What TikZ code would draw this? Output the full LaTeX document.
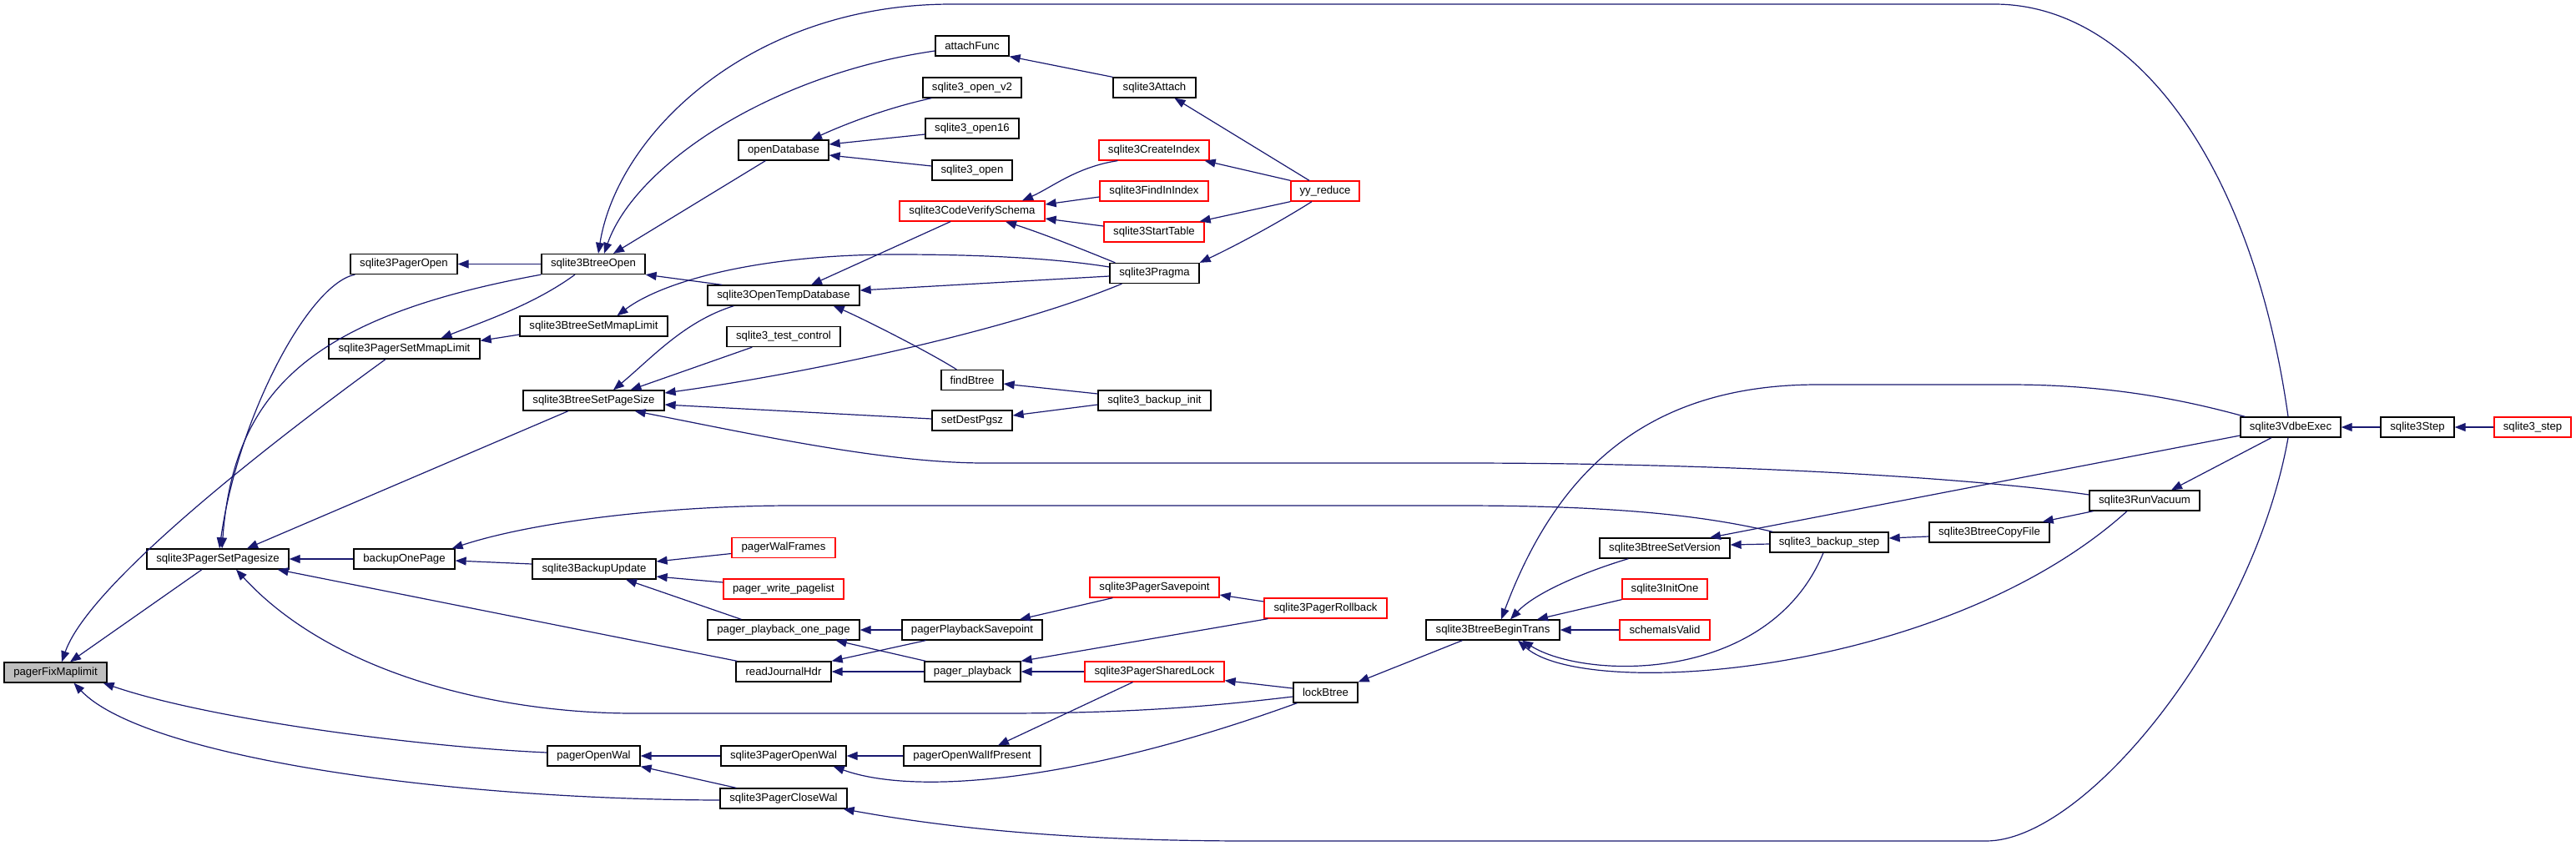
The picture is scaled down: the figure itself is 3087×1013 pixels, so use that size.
\documentclass[tikz,border=0pt]{standalone}
\usepackage{fontspec}
\setmainfont{Liberation Sans}
\usetikzlibrary{arrows.meta}
\definecolor{edgeblue}{HTML}{191970}
\definecolor{boxred}{HTML}{FF0000}
\definecolor{boxgray}{HTML}{BFBFBF}
\begin{document}
\begin{tikzpicture}[x=1pt,y=-1pt,
  fn/.style={draw=black, line width=1.3pt, fill=white, inner sep=0pt, minimum height=24pt, text=black, font=\fontsize{13.2}{15}\selectfont},
  fnred/.style={fn, draw=boxred},
  edge/.style={draw=edgeblue, line width=1.2pt, {Triangle[length=13pt,width=10pt]}-}]
\useasboundingbox (0,0) rectangle (3087,1013);
% rank 1-4
\node[fn, fill=boxgray, minimum width=123pt] (pfm) at (66.5,806) {pagerFixMaplimit};
\node[fn, minimum width=170pt] (psp) at (261,670) {sqlite3PagerSetPagesize};
\node[fn, minimum width=128pt] (pagerOpen) at (484,316.5) {sqlite3PagerOpen};
\node[fn, minimum width=181pt] (psml) at (484.5,418) {sqlite3PagerSetMmapLimit};
\node[fn, minimum width=121pt] (backupOnePage) at (484.5,670) {backupOnePage};
\node[fn, minimum width=124pt] (btreeOpen) at (711,316.5) {sqlite3BtreeOpen};
\node[fn, minimum width=177pt] (bsml) at (711.5,391) {sqlite3BtreeSetMmapLimit};
\node[fn, minimum width=169pt] (bspsz) at (711.5,480) {sqlite3BtreeSetPageSize};
\node[fn, minimum width=148pt] (backupUpdate) at (712,682) {sqlite3BackupUpdate};
\node[fn, minimum width=111pt] (pagerOpenWal) at (711.5,906) {pagerOpenWal};
% rank 5
\node[fn, minimum width=108pt] (openDatabase) at (939,180) {openDatabase};
\node[fn, minimum width=182pt] (otd) at (939,354) {sqlite3OpenTempDatabase};
\node[fn, minimum width=136pt] (testControl) at (939,403.5) {sqlite3\_test\_control};
\node[fnred, minimum width=124pt] (walFrames) at (939,656.5) {pagerWalFrames};
\node[fnred, minimum width=144pt] (writePagelist) at (939,706) {pager\_write\_pagelist};
\node[fn, minimum width=182pt] (ppop) at (939,755) {pager\_playback\_one\_page};
\node[fn, minimum width=114pt] (readJournalHdr) at (939,805) {readJournalHdr};
\node[fn, minimum width=150pt] (pagerOpenWalS) at (939,906) {sqlite3PagerOpenWal};
\node[fn, minimum width=152pt] (closeWal) at (939,957) {sqlite3PagerCloseWal};
% rank 6
\node[fn, minimum width=88pt] (attachFunc) at (1165,55) {attachFunc};
\node[fn, minimum width=118pt] (openV2) at (1165,105) {sqlite3\_open\_v2};
\node[fn, minimum width=112pt] (open16) at (1165,154) {sqlite3\_open16};
\node[fn, minimum width=96pt] (open) at (1165,204) {sqlite3\_open};
\node[fnred, minimum width=174pt] (cvs) at (1165,253) {sqlite3CodeVerifySchema};
\node[fn, minimum width=74pt] (findBtree) at (1165,455.5) {findBtree};
\node[fn, minimum width=96pt] (setDestPgsz) at (1165,504) {setDestPgsz};
\node[fn, minimum width=168pt] (pps) at (1165,755) {pagerPlaybackSavepoint};
\node[fn, minimum width=115pt] (pagerPlayback) at (1165.5,805) {pager\_playback};
\node[fn, minimum width=164pt] (owip) at (1165,906) {pagerOpenWalIfPresent};
% rank 7
\node[fn, minimum width=99pt] (attach) at (1383.5,105) {sqlite3Attach};
\node[fnred, minimum width=132pt] (createIndex) at (1383,180) {sqlite3CreateIndex};
\node[fnred, minimum width=130pt] (findInIndex) at (1383,229) {sqlite3FindInIndex};
\node[fnred, minimum width=120pt] (startTable) at (1383,278) {sqlite3StartTable};
\node[fn, minimum width=107pt] (pragma) at (1383.5,327.5) {sqlite3Pragma};
\node[fn, minimum width=135pt] (backupInit) at (1383.5,480) {sqlite3\_backup\_init};
\node[fnred, minimum width=155pt] (savepoint) at (1383.5,704) {sqlite3PagerSavepoint};
\node[fnred, minimum width=167pt] (sharedLock) at (1383.5,805) {sqlite3PagerSharedLock};
% rank 8+
\node[fnred, minimum width=82pt] (yyReduce) at (1588,229) {yy\_reduce};
\node[fnred, minimum width=147pt] (rollback) at (1588.5,729) {sqlite3PagerRollback};
\node[fn, minimum width=77pt] (lockBtree) at (1588.5,830) {lockBtree};
\node[fn, minimum width=160pt] (beginTrans) at (1789,755) {sqlite3BtreeBeginTrans};
\node[fn, minimum width=156pt] (setVersion) at (1995,657) {sqlite3BtreeSetVersion};
\node[fnred, minimum width=102pt] (initOne) at (1995,706) {sqlite3InitOne};
\node[fnred, minimum width=108pt] (schemaIsValid) at (1995,755) {schemaIsValid};
\node[fn, minimum width=142pt] (backupStep) at (2192,650) {sqlite3\_backup\_step};
\node[fn, minimum width=144pt] (copyFile) at (2384,638) {sqlite3BtreeCopyFile};
\node[fn, minimum width=132pt] (runVacuum) at (2570,600) {sqlite3RunVacuum};
\node[fn, minimum width=120pt] (vdbeExec) at (2745,512) {sqlite3VdbeExec};
\node[fn, minimum width=88pt] (step) at (2897,512) {sqlite3Step};
\node[fnred, minimum width=92pt] (step2) at (3035,512) {sqlite3\_step};
% edges (arrow head at callee)
\draw[edge] ([xshift=17.5pt]pfm.north) -- ([xshift=-19pt]psp.south);
\draw[edge] ([xshift=7.5pt]pfm.north) .. controls (110,690) and (380,490) .. ([xshift=-22.5pt]psml.south);
\draw[edge] ([xshift=-5pt]pfm.south east) .. controls (250,862) and (500,895) .. ([yshift=4pt]pagerOpenWal.west);
\draw[edge] ([xshift=22pt]pfm.south) .. controls (170,905) and (520,958) .. ([yshift=-2pt]closeWal.west);
\draw[edge] ([xshift=2pt]psp.north) .. controls (285,500) and (370,340) .. ([xshift=6pt]pagerOpen.south west);
\draw[edge] ([xshift=5pt]psp.north) .. controls (280,470) and (370,380) .. (btreeOpen.south west);
\draw[edge] ([xshift=35pt]psp.north) -- ([xshift=-30.5pt]bspsz.south);
\draw[edge] (psp.east) -- (backupOnePage.west);
\draw[edge] ([xshift=-14pt]psp.south east) -- ([xshift=2pt]readJournalHdr.north west);
\draw[edge] ([xshift=22pt]psp.south) .. controls (400,810) and (600,855) .. (760,855) -- (1200,855) .. controls (1380,855) and (1480,843) .. ([yshift=-5pt]lockBtree.west);
\draw[edge] (pagerOpen.east) -- (btreeOpen.west);
\draw[edge] ([xshift=44pt]psml.north) .. controls (580,385) and (640,365) .. ([xshift=-22pt]btreeOpen.south);
\draw[edge] ([yshift=-3pt]psml.north east) -- ([yshift=-10pt]bsml.west);
\draw[edge] ([xshift=13pt]btreeOpen.north) .. controls (760,200) and (920,90) .. ([yshift=-6pt]attachFunc.west);
\draw[edge] ([xshift=24pt]btreeOpen.north) -- ([xshift=33pt]openDatabase.south west);
\draw[edge] ([xshift=6pt]btreeOpen.north) .. controls (740,160) and (900,5) .. (1140,5) -- (2390,5) .. controls (2560,5) and (2700,200) .. ([xshift=-3pt]vdbeExec.north);
\draw[edge] (btreeOpen.south east) -- ([xshift=18pt]otd.north west);
\draw[edge] ([xshift=28pt]bsml.north) .. controls (790,340) and (900,305) .. (1075,305) .. controls (1200,305) and (1280,312) .. ([yshift=7.5pt]pragma.west);
\draw[edge] ([xshift=23.5pt]bspsz.north) .. controls (780,430) and (820,385) .. ([xshift=32pt]otd.south west);
\draw[edge] ([xshift=44pt]bspsz.north) -- ([xshift=31pt]testControl.south west);
\draw[edge] ([yshift=9pt]bspsz.east) .. controls (950,450) and (1200,400) .. ([xshift=15pt]pragma.south west);
\draw[edge] ([yshift=-5pt]bspsz.east) -- ([yshift=2pt]setDestPgsz.west);
\draw[edge] ([xshift=-36pt]bspsz.south east) .. controls (900,520) and (1060,555) .. (1180,555) -- (1750,555) .. controls (2100,555) and (2380,575) .. ([yshift=7pt]runVacuum.west);
\draw[edge] ([yshift=-2pt]backupOnePage.east) -- ([yshift=6pt]backupUpdate.west);
\draw[edge] ([xshift=-4pt]backupOnePage.north east) .. controls (640,625) and (800,606) .. (950,606) -- (1750,606) .. controls (1950,606) and (2050,620) .. ([xshift=4pt]backupStep.north west);
\draw[edge] ([yshift=9pt]backupUpdate.east) -- ([yshift=-7pt]walFrames.west);
\draw[edge] ([yshift=-9pt]backupUpdate.east) -- ([yshift=8pt]writePagelist.west);
\draw[edge] ([xshift=38pt]backupUpdate.south) -- ([xshift=41pt]ppop.north west);
\draw[edge] (pagerOpenWal.east) -- (pagerOpenWalS.west);
\draw[edge] (pagerOpenWal.south east) -- ([xshift=20pt]closeWal.north west);
\draw[edge] ([xshift=33pt]openDatabase.north) .. controls (1010,150) and (1060,130) .. ([xshift=11pt]openV2.south west);
\draw[edge] ([yshift=7pt]openDatabase.east) -- ([yshift=-7pt]open16.west);
\draw[edge] ([yshift=-6pt]openDatabase.east) -- ([yshift=5pt]open.west);
\draw[edge] (attachFunc.south east) -- (attach.north west);
\draw[edge] ([xshift=24pt]attach.south) -- ([xshift=-19pt]yyReduce.north);
\draw[edge] ([xshift=60pt]cvs.north) .. controls (1260,225) and (1290,200) .. ([xshift=23pt]createIndex.south west);
\draw[edge] ([yshift=8pt]cvs.east) -- ([yshift=-7pt]findInIndex.west);
\draw[edge] ([yshift=-9pt]cvs.east) -- ([yshift=7pt]startTable.west);
\draw[edge] ([xshift=40pt]cvs.south) .. controls (1250,280) and (1300,300) .. ([xshift=7pt]pragma.north west);
\draw[edge] ([xshift=-6pt]createIndex.south east) -- (yyReduce.north west);
\draw[edge] ([xshift=-6pt]startTable.north east) -- (yyReduce.south west);
\draw[edge] (pragma.north east) .. controls (1490,290) and (1540,262) .. ([xshift=-16pt]yyReduce.south);
\draw[edge] ([xshift=33pt]otd.north) -- ([xshift=-26pt]cvs.south);
\draw[edge] ([yshift=6pt]otd.east) -- ([yshift=-3.5pt]pragma.west);
\draw[edge] ([xshift=-32pt]otd.south east) .. controls (1030,380) and (1110,420) .. ([xshift=19pt]findBtree.north west);
\draw[edge] ([yshift=-4.5pt]findBtree.east) -- ([yshift=8pt]backupInit.west);
\draw[edge] ([yshift=6pt]setDestPgsz.east) -- ([yshift=-5pt]backupInit.west);
\draw[edge] (ppop.east) -- (pps.west);
\draw[edge] ([xshift=-29pt]ppop.south east) -- ([xshift=2pt]pagerPlayback.north west);
\draw[edge] (readJournalHdr.north east) -- ([xshift=29pt]pps.south west);
\draw[edge] (readJournalHdr.east) -- (pagerPlayback.west);
\draw[edge] ([xshift=57pt]pps.north) -- ([xshift=28pt]savepoint.south west);
\draw[edge] (pagerPlayback.north east) -- ([xshift=5pt]rollback.south west);
\draw[edge] (pagerPlayback.east) -- (sharedLock.west);
\draw[edge] ([xshift=31pt]owip.north) -- ([xshift=-26pt]sharedLock.south);
\draw[edge] (pagerOpenWalS.east) -- (owip.west);
\draw[edge] ([xshift=-16pt]pagerOpenWalS.south east) .. controls (1100,955) and (1300,935) .. ([xshift=5pt]lockBtree.south west);
\draw[edge] ([yshift=2pt]sharedLock.south east) -- ([yshift=5pt]lockBtree.west);
\draw[edge] ([yshift=-9pt]savepoint.east) -- ([yshift=8pt]rollback.west);
\draw[edge] (lockBtree.north east) -- ([xshift=44pt]beginTrans.south west);
\draw[edge] ([xshift=10pt]beginTrans.north) .. controls (1860,580) and (1960,461) .. (2178,461) -- (2408,461) .. controls (2530,461) and (2620,480) .. ([xshift=6pt]vdbeExec.north west);
\draw[edge] ([xshift=21pt]beginTrans.north) .. controls (1840,710) and (1900,685) .. ([xshift=35pt]setVersion.south west);
\draw[edge] ([xshift=53pt]beginTrans.north) -- (initOne.south west);
\draw[edge] (beginTrans.east) -- (schemaIsValid.west);
\draw[edge] ([xshift=35pt]beginTrans.south) .. controls (1900,815) and (2120,820) .. ([xshift=-7pt]backupStep.south);
\draw[edge] ([xshift=30pt]beginTrans.south) .. controls (1900,840) and (2330,810) .. ([xshift=-21pt]runVacuum.south);
\draw[edge] ([xshift=54pt]setVersion.north) -- ([yshift=-10pt]vdbeExec.west);
\draw[edge] ([yshift=4pt]setVersion.east) -- ([yshift=-2pt]backupStep.west);
\draw[edge] ([yshift=5pt]backupStep.east) -- ([yshift=-5pt]copyFile.west);
\draw[edge] ([xshift=-9pt]copyFile.north east) -- ([xshift=5pt]runVacuum.south west);
\draw[edge] ([xshift=32pt]runVacuum.north) -- ([xshift=-23pt]vdbeExec.south);
\draw[edge] (vdbeExec.east) -- (step.west);
\draw[edge] (step.east) -- (step2.west);
\draw[edge] ([xshift=-5pt]closeWal.south east) .. controls (1150,995) and (1300,1008) .. (1500,1008) -- (2380,1008) .. controls (2500,1008) and (2700,760) .. ([xshift=-3pt]vdbeExec.south);
\end{tikzpicture}
\end{document}
